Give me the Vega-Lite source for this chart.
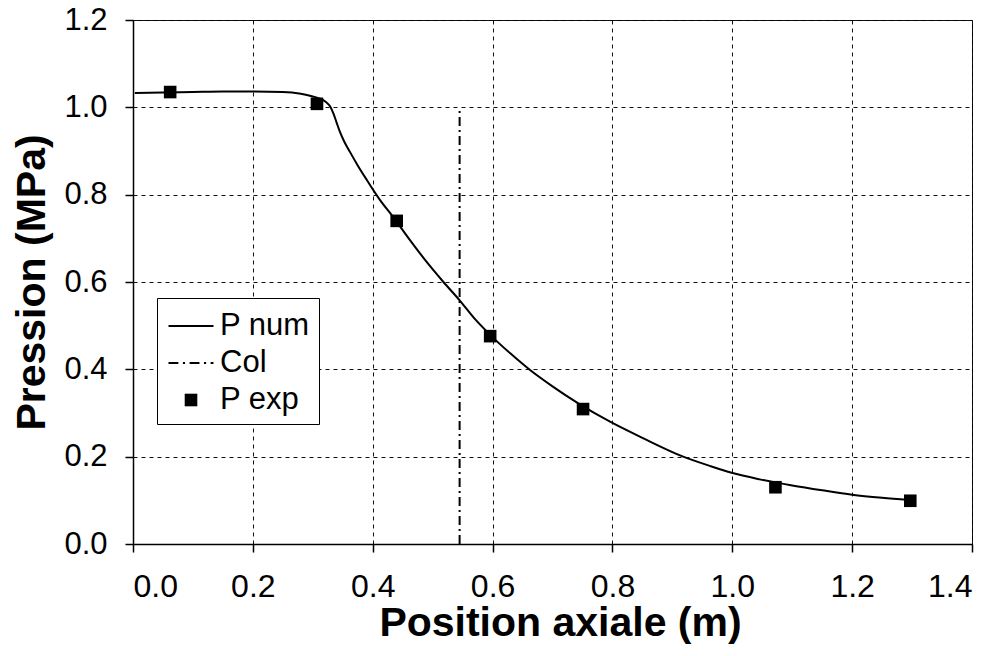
{
  "$schema": "https://vega.github.io/schema/vega-lite/v6.json",
  "width": 839,
  "height": 524,
  "autosize": {"type": "none"},
  "padding": {"left": 133, "top": 20, "right": 27, "bottom": 112},
  "background": "white",
  "config": {
    "font": "Liberation Sans",
    "view": {"stroke": "#000", "strokeWidth": 1},
    "axis": {
      "grid": true,
      "gridColor": "#111",
      "gridDash": [4, 4],
      "gridWidth": 1,
      "gridOpacity": 1,
      "domainColor": "#000",
      "domainWidth": 1.5,
      "tickColor": "#000",
      "tickSize": 8,
      "tickWidth": 1.5,
      "labelColor": "#000",
      "labelFont": "Liberation Sans",
      "titleColor": "#000",
      "titleFont": "Liberation Sans",
      "titleFontSize": 41,
      "titleFontWeight": "bold"
    },
    "legend": {
      "orient": "none",
      "legendX": 24,
      "legendY": 278,
      "strokeColor": "#000",
      "fillColor": "#fff",
      "padding": 9,
      "symbolOffset": 6,
      "labelOffset": 10,
      "rowPadding": 3,
      "labelFont": "Liberation Sans",
      "labelFontSize": 31,
      "labelColor": "#000",
      "symbolSize": 1296,
      "symbolFillColor": "#000"
    }
  },
  "data": {
    "values": [
      {"serie": "P num", "x": 0.003, "p": 1.033},
      {"serie": "P num", "x": 0.05, "p": 1.034},
      {"serie": "P num", "x": 0.10, "p": 1.035},
      {"serie": "P num", "x": 0.15, "p": 1.036},
      {"serie": "P num", "x": 0.20, "p": 1.036},
      {"serie": "P num", "x": 0.25, "p": 1.035},
      {"serie": "P num", "x": 0.28, "p": 1.031},
      {"serie": "P num", "x": 0.30, "p": 1.025},
      {"serie": "P num", "x": 0.312, "p": 1.02},
      {"serie": "P num", "x": 0.322, "p": 1.012},
      {"serie": "P num", "x": 0.329, "p": 1.002},
      {"serie": "P num", "x": 0.335, "p": 0.984},
      {"serie": "P num", "x": 0.34, "p": 0.964},
      {"serie": "P num", "x": 0.345, "p": 0.945},
      {"serie": "P num", "x": 0.352, "p": 0.923},
      {"serie": "P num", "x": 0.362, "p": 0.898},
      {"serie": "P num", "x": 0.375, "p": 0.867},
      {"serie": "P num", "x": 0.39, "p": 0.834},
      {"serie": "P num", "x": 0.412, "p": 0.788},
      {"serie": "P num", "x": 0.434, "p": 0.749},
      {"serie": "P num", "x": 0.46, "p": 0.7},
      {"serie": "P num", "x": 0.49, "p": 0.646},
      {"serie": "P num", "x": 0.518, "p": 0.6},
      {"serie": "P num", "x": 0.545, "p": 0.558},
      {"serie": "P num", "x": 0.57, "p": 0.516},
      {"serie": "P num", "x": 0.596, "p": 0.479},
      {"serie": "P num", "x": 0.63, "p": 0.436},
      {"serie": "P num", "x": 0.662, "p": 0.399},
      {"serie": "P num", "x": 0.70, "p": 0.361},
      {"serie": "P num", "x": 0.743, "p": 0.322},
      {"serie": "P num", "x": 0.796, "p": 0.28},
      {"serie": "P num", "x": 0.85, "p": 0.243},
      {"serie": "P num", "x": 0.918, "p": 0.2},
      {"serie": "P num", "x": 0.96, "p": 0.18},
      {"serie": "P num", "x": 0.999, "p": 0.163},
      {"serie": "P num", "x": 1.046, "p": 0.148},
      {"serie": "P num", "x": 1.10, "p": 0.134},
      {"serie": "P num", "x": 1.15, "p": 0.123},
      {"serie": "P num", "x": 1.20, "p": 0.113},
      {"serie": "P num", "x": 1.25, "p": 0.106},
      {"serie": "P num", "x": 1.295, "p": 0.101},
      {"serie": "Col", "x": 0.545, "p": 0.0},
      {"serie": "Col", "x": 0.545, "p": 1.0},
      {"serie": "P exp", "x": 0.062, "p": 1.035},
      {"serie": "P exp", "x": 0.307, "p": 1.008},
      {"serie": "P exp", "x": 0.44, "p": 0.74},
      {"serie": "P exp", "x": 0.596, "p": 0.476},
      {"serie": "P exp", "x": 0.751, "p": 0.309},
      {"serie": "P exp", "x": 1.072, "p": 0.13},
      {"serie": "P exp", "x": 1.297, "p": 0.099}
    ]
  },
  "encoding": {
    "x": {
      "field": "x",
      "type": "quantitative",
      "title": "Position axiale (m)",
      "scale": {"domain": [0, 1.4], "nice": false, "zero": false},
      "axis": {
        "values": [0, 0.2, 0.4, 0.6, 0.8, 1.0, 1.2, 1.4],
        "format": ".1f",
        "labelFontSize": 32,
        "labelPadding": 19,
        "titlePadding": 1,
        "titleX": 427
      }
    },
    "y": {
      "field": "p",
      "type": "quantitative",
      "title": "Pression (MPa)",
      "scale": {"domain": [0, 1.2], "nice": false, "zero": false},
      "axis": {
        "values": [0, 0.2, 0.4, 0.6, 0.8, 1.0, 1.2],
        "format": ".1f",
        "labelFontSize": 31,
        "labelPadding": 18,
        "titlePadding": 10
      }
    }
  },
  "layer": [
    {
      "transform": [{"filter": "datum.serie === 'Col'"}],
      "mark": {"type": "line", "color": "#000", "strokeWidth": 2, "strokeDash": [9, 4, 2, 4]}
    },
    {
      "transform": [{"filter": "datum.serie === 'P num'"}],
      "mark": {"type": "line", "color": "#000", "strokeWidth": 2, "interpolate": "monotone"}
    },
    {
      "transform": [{"filter": "datum.serie === 'P exp'"}],
      "mark": {"type": "point", "filled": true, "fill": "#000", "size": 1296, "opacity": 1},
      "encoding": {
        "shape": {
          "field": "serie",
          "type": "nominal",
          "scale": {
            "domain": ["P num", "Col", "P exp"],
            "range": [
              "M-1.25,-0.05H1.25V0.05H-1.25Z",
              "M-1.25,-0.05H-0.7V0.05H-1.25ZM-0.45,-0.05H-0.33V0.05H-0.45ZM-0.08,-0.05H0.47V0.05H-0.08ZM0.72,-0.05H0.84V0.05H0.72ZM1.09,-0.05H1.25V0.05H1.09Z",
              "M-0.35,-0.35H0.35V0.35H-0.35Z"
            ]
          },
          "legend": {
            "title": null,
            "encode": {
              "symbols": {
                "update": {
                  "fill": {"value": "#000"},
                  "opacity": {"value": 1}
                }
              }
            }
          }
        }
      }
    }
  ]
}
